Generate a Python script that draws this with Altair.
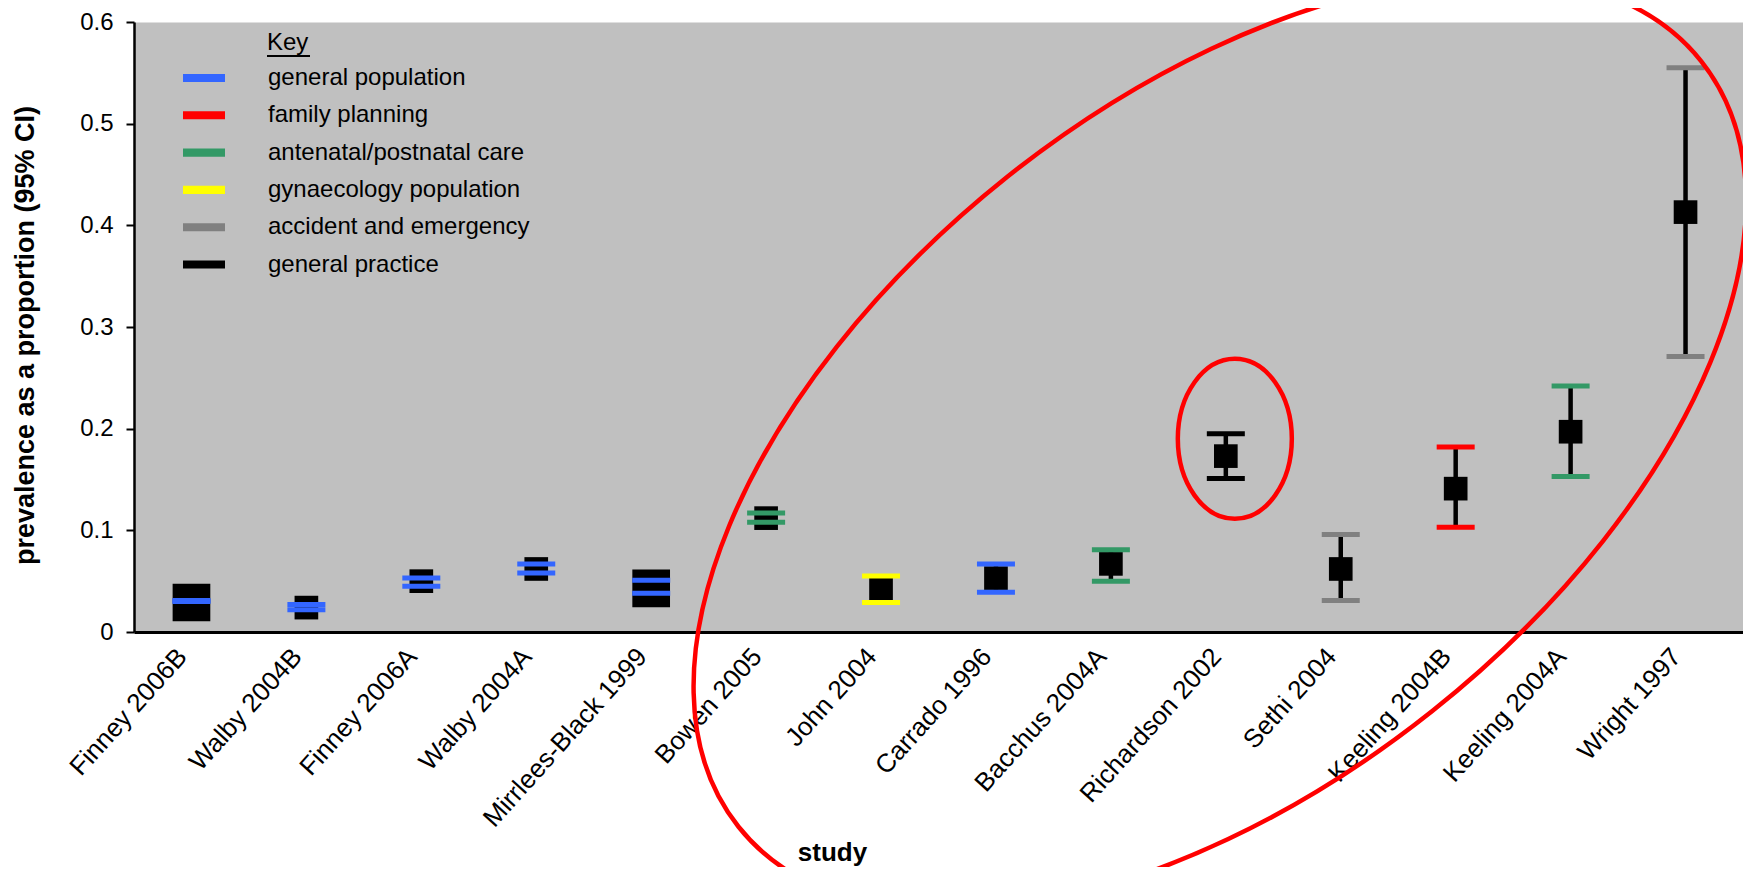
import altair as alt
import pandas as pd

# ---------------- data ----------------
studies = ["Finney 2006B", "Walby 2004B", "Finney 2006A", "Walby 2004A",
           "Mirrlees-Black 1999", "Bowen 2005", "John 2004", "Carrado 1996",
           "Bacchus 2004A", "Richardson 2002", "Sethi 2004", "Keeling 2004B",
           "Keeling 2004A", "Wright 1997"]
estimate = [0.029, 0.024, 0.050, 0.062, 0.043, 0.112, 0.042, 0.053,
            0.067, 0.173, 0.062, 0.141, 0.197, 0.413]
lower = [0.030, 0.022, 0.045, 0.058, 0.038, 0.108, 0.029, 0.039,
         0.050, 0.151, 0.031, 0.103, 0.153, 0.271]
upper = [0.031, 0.027, 0.053, 0.067, 0.051, 0.117, 0.055, 0.067,
         0.081, 0.195, 0.096, 0.182, 0.242, 0.555]
setting = ["general population", "general population", "general population",
           "general population", "general population", "antenatal/postnatal care",
           "gynaecology population", "general population", "antenatal/postnatal care",
           "general practice", "accident and emergency", "family planning",
           "antenatal/postnatal care", "accident and emergency"]
weight = [2, 1, 1, 1, 2, 1, 1, 1, 1, 1, 1, 1, 1, 1]

setting_order = ["general population", "family planning", "antenatal/postnatal care",
                 "gynaecology population", "accident and emergency", "general practice"]
setting_colors = ["#3366FF", "#FF0000", "#339966", "#FFFF00", "#808080", "#000000"]

y_ticks = [0, 0.1, 0.2, 0.3, 0.4, 0.5, 0.6]
key_title = ["Key"]

# annotation anchors (hand-drawn ellipses in the original)
circle_study = ["Richardson 2002"]
circle_value = [0.19]
group_study = ["Richardson 2002"]
group_value = [0.185]

FONT = "Liberation Sans"

df = pd.DataFrame({"study": studies, "estimate": estimate, "lower": lower,
                   "upper": upper, "setting": setting, "weight": weight})
key_df = pd.DataFrame({"label": key_title})
circle_df = pd.DataFrame({"study": circle_study, "value": circle_value})
group_df = pd.DataFrame({"study": group_study, "value": group_value})

x_axis = alt.Axis(
    labelAngle=312, labelAlign="right", labelBaseline="middle",
    labelFont=FONT, labelFontSize=26, labelColor="black", labelPadding=20,
    labelOffset=-9, labelLimit=400, ticks=False, domainColor="black",
    domainWidth=3, grid=False, titleFont=FONT, titleFontSize=26,
    titleFontWeight="bold", titleColor="black", titleX=698, titleY=220,
    titleAlign="center", titleBaseline="middle",
)
y_axis = alt.Axis(
    values=y_ticks, format=".1~f", labelFont=FONT, labelFontSize=24,
    labelColor="black", labelPadding=13, tickSize=8, tickWidth=2,
    tickColor="black", domainColor="black", domainWidth=2.5, grid=False,
    titleFont=FONT, titleFontSize=27, titleFontWeight="bold", titleColor="black",
    titleAngle=270, titleX=-109, titleY=313, titleAlign="center",
    titleBaseline="middle",
)
x_scale = alt.Scale(domain=studies, paddingInner=0, paddingOuter=0)
y_scale = alt.Scale(domain=[0, 0.6], nice=False, zero=True)
YTITLE = "prevalence as a proportion (95% CI)"


def X():
    return alt.X("study:N", sort=studies, scale=x_scale, axis=x_axis, title="study")


def Y(field):
    return alt.Y(field, scale=y_scale, axis=y_axis, title=YTITLE)


whiskers = alt.Chart(df).mark_rule(color="black", strokeWidth=4.5).encode(
    x=X(), y=Y("lower:Q"), y2="upper:Q")

boxes = alt.Chart(df).mark_square(color="black", opacity=1, filled=True).encode(
    x=X(), y=Y("estimate:Q"),
    size=alt.Size("weight:O", scale=alt.Scale(domain=[1, 2], range=[560, 1420]),
                  legend=None))

caps = alt.Chart(df).transform_fold(["lower", "upper"], as_=["bound", "ci"]).mark_tick(
    size=38, thickness=5, opacity=1).encode(
    x=X(), y=Y("ci:Q"),
    color=alt.Color("setting:N",
                    scale=alt.Scale(domain=setting_order, range=setting_colors),
                    legend=alt.Legend(
                        title=None, orient="none", legendX=55, legendY=41,
                        direction="vertical",
                        symbolType="M-1.4,-0.27H1.4V0.27H-1.4Z", symbolSize=900,
                        symbolStrokeWidth=0, symbolOpacity=1,
                        labelFont=FONT, labelFontSize=24, labelColor="black",
                        labelOffset=49, labelLimit=500, rowPadding=10.3,
                        padding=0, offset=0)))

key_text = alt.Chart(key_df).mark_text(
    align="left", baseline="middle", font=FONT, fontSize=24, color="black").encode(
    x=alt.value(133), y=alt.value(21), text="label:N")

key_underline = alt.Chart(key_df).mark_rule(color="black", strokeWidth=2).encode(
    x=alt.value(133), x2=alt.value(176), y=alt.value(34))

small_ellipse = alt.Chart(circle_df).mark_point(
    shape="M-0.7125,0A0.7125,1 0 1,0 0.7125,0A0.7125,1 0 1,0 -0.7125,0Z",
    filled=False, color="#FF0000", strokeWidth=4.5, opacity=1,
    size=25600, xOffset=9).encode(x=X(), y=Y("value:Q"))

big_ellipse = alt.Chart(group_df).mark_point(
    shape="M-1,0A1,0.555 0 1,0 1,0A1,0.555 0 1,0 -1,0Z",
    filled=False, color="#FF0000", strokeWidth=4.5, opacity=1,
    size=1512900, angle=321.5, xOffset=-6).encode(x=X(), y=Y("value:Q"))

chart = alt.layer(
    whiskers, boxes, caps, key_text, key_underline, small_ellipse, big_ellipse
).properties(
    width=1609, height=610,
    padding={"left": 126, "top": 14, "right": 0, "bottom": 235},
    autosize=alt.AutoSizeParams(type="none"),
).configure_view(fill="#C0C0C0", stroke="transparent")

chart.save("out.html", embed_options={"renderer": "svg", "actions": False})
